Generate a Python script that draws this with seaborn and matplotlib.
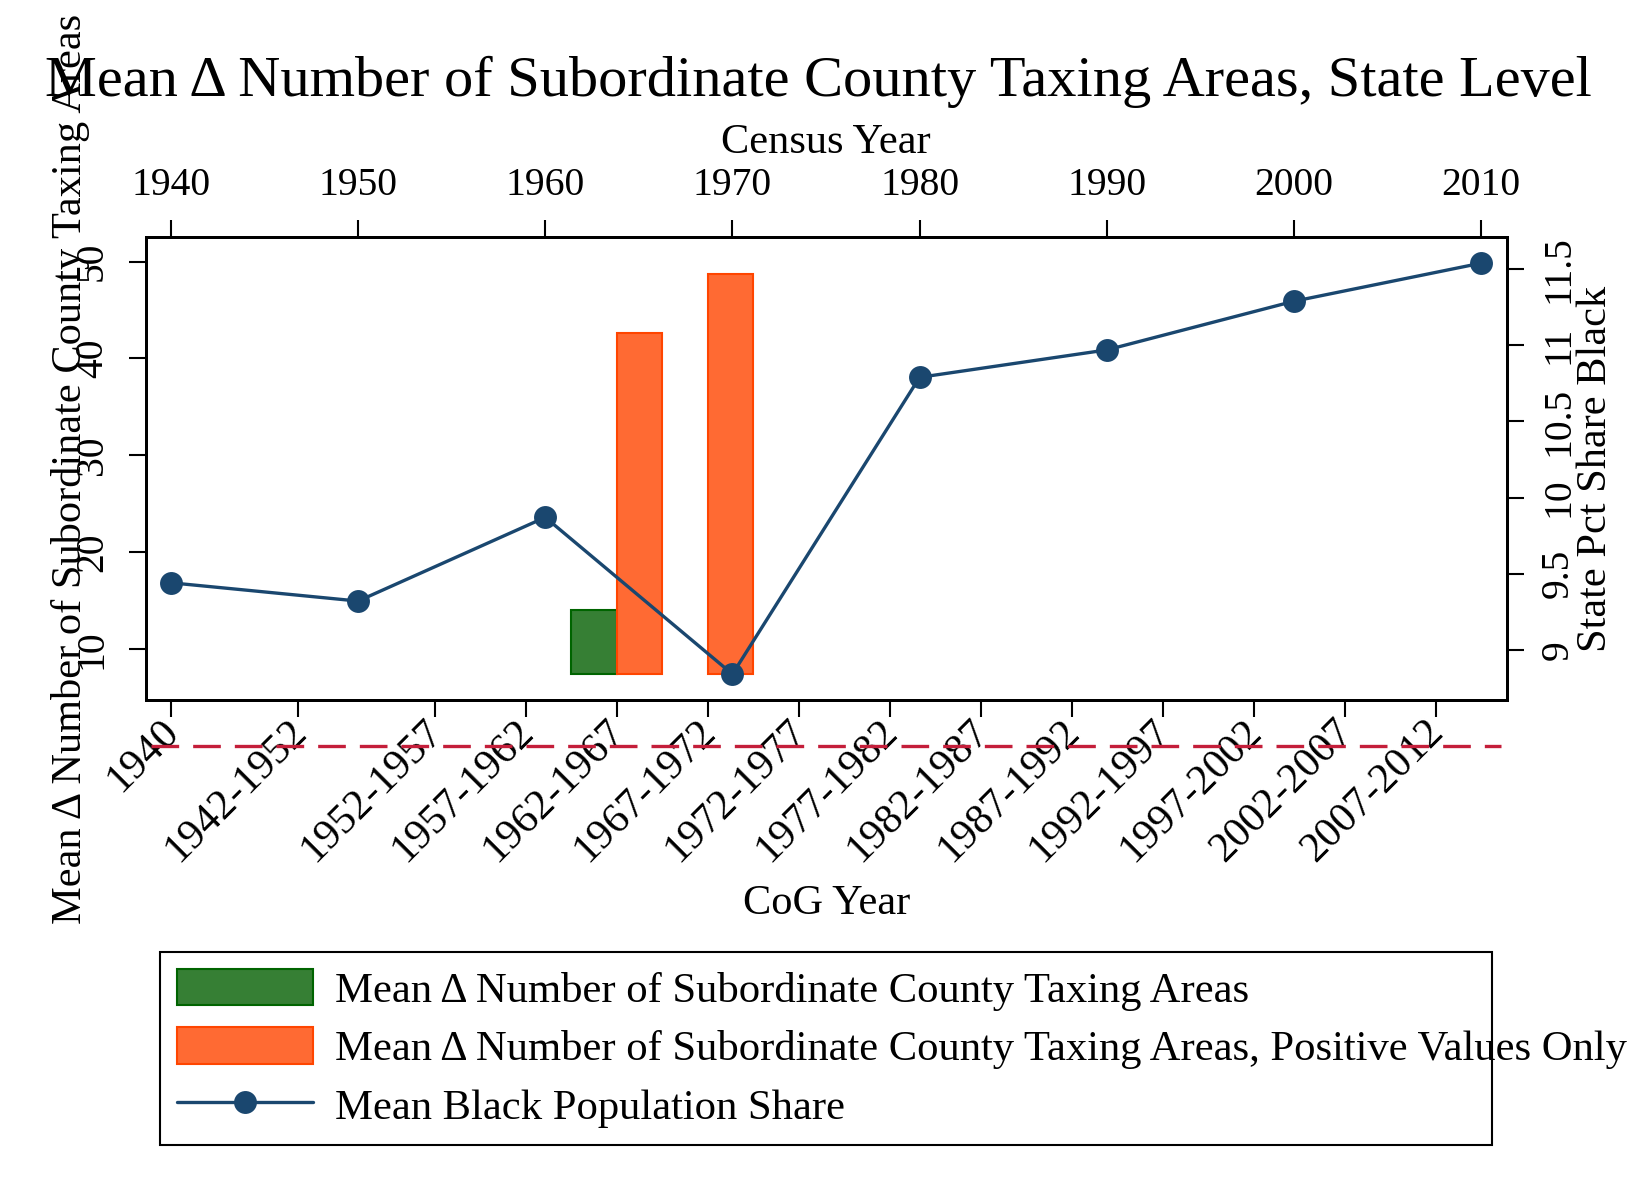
import numpy as np
import seaborn as sns
import matplotlib.pyplot as plt
import matplotlib.transforms as mtransforms
from matplotlib.patches import Patch
from matplotlib.lines import Line2D

# data
census_years = [1940, 1950, 1960, 1970, 1980, 1990, 2000, 2010]
black_share = [9.44, 9.32, 9.87, 8.84, 10.79, 10.97, 11.29, 11.54]

cog_labels = ['1940', '1942-1952', '1952-1957', '1957-1962', '1962-1967', '1967-1972',
              '1972-1977', '1977-1982', '1982-1987', '1987-1992', '1992-1997',
              '1997-2002', '2002-2007', '2007-2012']

change_periods = ['1962-1967']
mean_change = [14.1]
positive_periods = ['1962-1967', '1967-1972']
mean_change_pos = [42.6, 48.7]

left_ticks = [10, 20, 30, 40, 50]
right_ticks = [9, 9.5, 10, 10.5, 11, 11.5]


def period_mid(label):
    parts = [float(p) for p in label.split('-')]
    return sum(parts) / len(parts)


cog_mid = [period_mid(s) for s in cog_labels]

# style
sns.set_theme(style='white')
plt.rcParams['font.family'] = ['Liberation Serif', 'DejaVu Serif']
plt.rcParams['text.color'] = 'black'
plt.rcParams['axes.labelcolor'] = 'black'

NAVY = '#1A476F'
GREEN = '#367F34'
GREEN_EDGE = '#006400'
ORANGE = '#FF6A33'
ORANGE_EDGE = '#FF4500'
RED = '#C41E3A'
FS_TICK = 28.5
FS_LAB = 30.5
FS_LEG = 30.7
BAR_W = 2.5
BAR_BASE = 7.45

fig = plt.figure(figsize=(16.52, 12.01), dpi=100)
ax = fig.add_axes([145.7 / 1652, 1 - 700 / 1201, 1361 / 1652, 462.7 / 1201])
ax_r = ax.twinx()
ax_t = ax_r.twiny()

# bars (bottom CoG axis, left y)
g_x = [period_mid(p) - BAR_W for p in change_periods]
o_x = [period_mid(p) for p in positive_periods]
ax.bar(g_x, [v - BAR_BASE for v in mean_change], width=BAR_W, bottom=BAR_BASE,
       align='edge', color=GREEN, edgecolor=GREEN_EDGE, linewidth=1.5)
ax.bar(o_x, [v - BAR_BASE for v in mean_change_pos], width=BAR_W, bottom=BAR_BASE,
       align='edge', color=ORANGE, edgecolor=ORANGE_EDGE, linewidth=1.5)
ax.axhline(0, xmin=0.004, xmax=0.996, color=RED, lw=2.4, dashes=(8.3, 4.2), clip_on=False)

# line (top census axis, right y)
sns.lineplot(x=census_years, y=black_share, ax=ax_t, color=NAVY, linewidth=2.4,
             marker='o', markersize=16.5, markeredgewidth=0, legend=False)

ax.set_xlim(1938.61, 2013.39)
ax.set_ylim(4.77, 52.5)
ax_r.set_ylim(8.67, 11.71)
ax_t.set_xlim(1938.65, 2011.37)

ax.set_yticks(left_ticks)
ax.set_yticklabels([str(t) for t in left_ticks], rotation=90, va='center')
ax_r.set_yticks(right_ticks)
ax_r.set_yticklabels([f'{t:g}' for t in right_ticks], rotation=90, va='center')
ax.set_xticks(cog_mid)
ax.set_xticklabels(cog_labels, rotation=45, ha='right', va='center', rotation_mode='anchor')
ax_t.set_xticks(census_years)
ax_t.set_xticklabels([str(y) for y in census_years])

for a in (ax, ax_r, ax_t):
    a.tick_params(direction='out', length=12, width=1.5, color='black',
                  labelsize=FS_TICK, labelcolor='black')
    for sp in a.spines.values():
        sp.set_linewidth(2)
        sp.set_color('black')
ax.tick_params(axis='y', left=True, pad=13)
ax.tick_params(axis='x', bottom=True, pad=6, labelsize=30.5)
ax_r.tick_params(axis='y', right=True, pad=12)
ax_t.tick_params(axis='x', top=True, pad=12)

# nudge the slanted CoG labels so their ends sit just under the ticks
shift = mtransforms.ScaledTranslation(0.02, -0.01, fig.dpi_scale_trans)
for lab in ax.get_xticklabels():
    lab.set_transform(lab.get_transform() + shift)

ax.set_ylabel('Mean Δ Number of Subordinate County Taxing Areas', fontsize=FS_LAB, va='center')
ax.yaxis.set_label_coords(-0.0556, 0.5)
ax_r.set_ylabel('State Pct Share Black', fontsize=FS_LAB, va='center')
ax_r.yaxis.set_label_coords(1.0656, 0.5)
ax.set_xlabel('CoG Year', fontsize=FS_LAB, va='center')
ax.xaxis.set_label_coords(0.5, -0.4409)
ax_t.set_xlabel('Census Year', fontsize=FS_LAB, va='center')
ax_t.xaxis.set_label_coords(0.5, 1.2038)

fig.text(818 / 1652, 1 - 82 / 1201,
         'Mean Δ Number of Subordinate County Taxing Areas, State Level',
         fontsize=42, ha='center', va='center')

handles = [
    Patch(facecolor=GREEN, edgecolor=GREEN_EDGE, linewidth=1.5),
    Patch(facecolor=ORANGE, edgecolor=ORANGE_EDGE, linewidth=1.5),
    Line2D([], [], color=NAVY, linewidth=2.4, marker='o', markersize=16.5, markeredgewidth=0),
]
labels = ['Mean Δ Number of Subordinate County Taxing Areas',
          'Mean Δ Number of Subordinate County Taxing Areas, Positive Values Only',
          'Mean Black Population Share']
leg = fig.legend(handles, labels, loc='upper left',
                 bbox_to_anchor=(160 / 1652, 1 - 951.7 / 1201, 1332 / 1652, 0),
                 mode='expand', ncol=1, fontsize=FS_LEG, frameon=True, fancybox=False,
                 borderaxespad=0, borderpad=0.4, handlelength=3.18, handleheight=0.94,
                 handletextpad=0.52, labelspacing=0.39)
leg.get_frame().set_edgecolor('black')
leg.get_frame().set_linewidth(1.5)
leg.get_frame().set_alpha(1)

fig.savefig('out.png', dpi=100, facecolor='white')
